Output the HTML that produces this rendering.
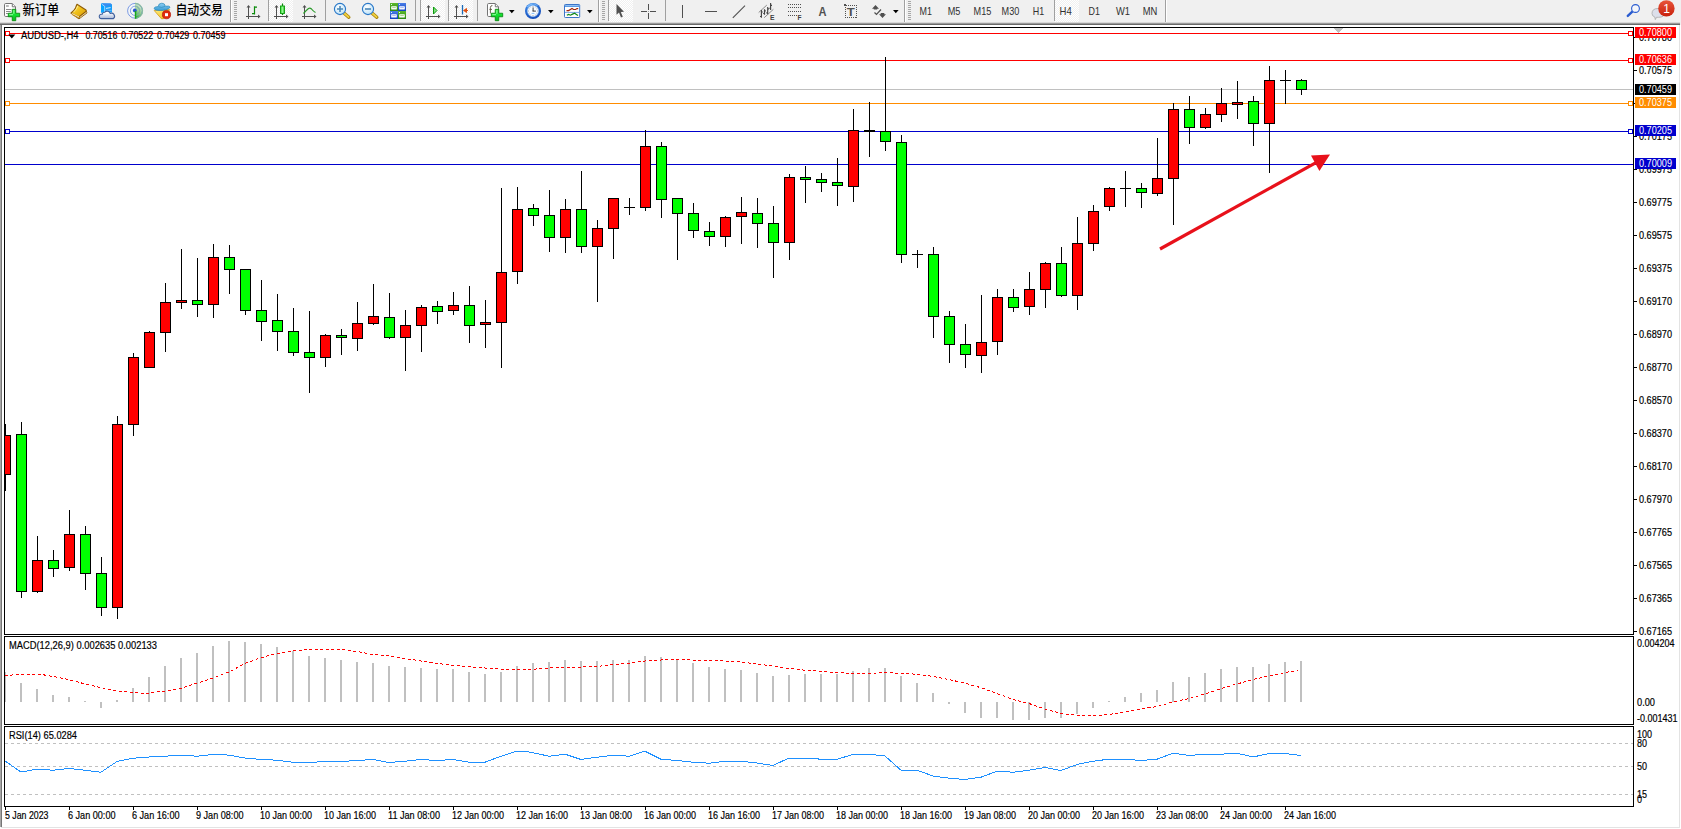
<!DOCTYPE html>
<html><head><meta charset="utf-8"><title>AUDUSD H4</title>
<style>
html,body{margin:0;padding:0;background:#fff}
body{width:1681px;height:829px;overflow:hidden;position:relative;font-family:'Liberation Sans','Noto Sans CJK SC',sans-serif}
#tb{position:absolute;left:0;top:0;width:1681px;height:25px;background:#f0f0f0}
#tbs{position:absolute;left:0;top:22px;width:1680px;z-index:1;height:3px;background:linear-gradient(#d8d8d8,#d8d8d8 33%,#9a9a9a 33%,#9a9a9a 67%,#696969 67%)}
#lb{position:absolute;left:0;top:24px;width:2px;height:803px;background:linear-gradient(90deg,#a6a6a6 50%,#767676 50%)}
#rb{position:absolute;left:1679px;top:25px;width:1px;height:803px;background:#e3e3e3}
#bb{position:absolute;left:1px;top:827px;width:1679px;height:1px;background:#e3e3e3}
svg{position:absolute;left:0;top:0}
text{font-family:'Liberation Sans','Noto Sans CJK SC',sans-serif}
</style></head><body>
<div id="tb"></div><div id="tbs"></div><div id="lb"></div><div id="rb"></div><div id="bb"></div>
<svg width="1681" height="829" viewBox="0 0 1681 829">
<g shape-rendering="crispEdges">
<rect x="4" y="27" width="1630" height="1" fill="#000"/>
<rect x="4" y="634" width="1630" height="1" fill="#000"/>
<rect x="4" y="27" width="1" height="608" fill="#000"/>
<rect x="1633" y="27" width="1" height="608" fill="#000"/>
<rect x="4" y="636" width="1630" height="1" fill="#000"/>
<rect x="4" y="724" width="1630" height="1" fill="#000"/>
<rect x="4" y="636" width="1" height="89" fill="#000"/>
<rect x="1633" y="636" width="1" height="89" fill="#000"/>
<rect x="4" y="726" width="1630" height="1" fill="#000"/>
<rect x="4" y="806" width="1630" height="1" fill="#000"/>
<rect x="4" y="726" width="1" height="81" fill="#000"/>
<rect x="1633" y="726" width="1" height="81" fill="#000"/>
<rect x="5" y="33" width="1628" height="1" fill="#ff0000"/>
<rect x="5" y="31" width="5" height="5" fill="#ff0000"/>
<rect x="6" y="32" width="3" height="3" fill="#fff"/>
<rect x="1628" y="31" width="5" height="5" fill="#ff0000"/>
<rect x="1629" y="32" width="3" height="3" fill="#fff"/>
<rect x="5" y="60" width="1628" height="1" fill="#ff0000"/>
<rect x="5" y="58" width="5" height="5" fill="#ff0000"/>
<rect x="6" y="59" width="3" height="3" fill="#fff"/>
<rect x="1628" y="58" width="5" height="5" fill="#ff0000"/>
<rect x="1629" y="59" width="3" height="3" fill="#fff"/>
<rect x="5" y="89" width="1628" height="1" fill="#c0c0c0"/>
<rect x="5" y="103" width="1628" height="1" fill="#ff8c00"/>
<rect x="5" y="101" width="5" height="5" fill="#ff8c00"/>
<rect x="6" y="102" width="3" height="3" fill="#fff"/>
<rect x="1628" y="101" width="5" height="5" fill="#ff8c00"/>
<rect x="1629" y="102" width="3" height="3" fill="#fff"/>
<rect x="5" y="131" width="1628" height="1" fill="#0000cd"/>
<rect x="5" y="129" width="5" height="5" fill="#0000cd"/>
<rect x="6" y="130" width="3" height="3" fill="#fff"/>
<rect x="1628" y="129" width="5" height="5" fill="#0000cd"/>
<rect x="1629" y="130" width="3" height="3" fill="#fff"/>
<rect x="5" y="164" width="1628" height="1" fill="#0000cd"/>
<rect x="5" y="424" width="1" height="67" fill="#000"/>
<rect x="5" y="435" width="6" height="40" fill="#000"/>
<rect x="5" y="436" width="5" height="38" fill="#ff0000"/>
<rect x="21" y="422" width="1" height="176" fill="#000"/>
<rect x="16" y="434" width="11" height="158" fill="#000"/>
<rect x="17" y="435" width="9" height="156" fill="#00ff00"/>
<rect x="37" y="536" width="1" height="57" fill="#000"/>
<rect x="32" y="560" width="11" height="32" fill="#000"/>
<rect x="33" y="561" width="9" height="30" fill="#ff0000"/>
<rect x="53" y="550" width="1" height="27" fill="#000"/>
<rect x="48" y="560" width="11" height="9" fill="#000"/>
<rect x="49" y="561" width="9" height="7" fill="#00ff00"/>
<rect x="69" y="510" width="1" height="61" fill="#000"/>
<rect x="64" y="534" width="11" height="34" fill="#000"/>
<rect x="65" y="535" width="9" height="32" fill="#ff0000"/>
<rect x="85" y="526" width="1" height="64" fill="#000"/>
<rect x="80" y="534" width="11" height="40" fill="#000"/>
<rect x="81" y="535" width="9" height="38" fill="#00ff00"/>
<rect x="101" y="557" width="1" height="59" fill="#000"/>
<rect x="96" y="573" width="11" height="35" fill="#000"/>
<rect x="97" y="574" width="9" height="33" fill="#00ff00"/>
<rect x="117" y="416" width="1" height="203" fill="#000"/>
<rect x="112" y="424" width="11" height="184" fill="#000"/>
<rect x="113" y="425" width="9" height="182" fill="#ff0000"/>
<rect x="133" y="353" width="1" height="83" fill="#000"/>
<rect x="128" y="357" width="11" height="68" fill="#000"/>
<rect x="129" y="358" width="9" height="66" fill="#ff0000"/>
<rect x="149" y="331" width="1" height="37" fill="#000"/>
<rect x="144" y="332" width="11" height="36" fill="#000"/>
<rect x="145" y="333" width="9" height="34" fill="#ff0000"/>
<rect x="165" y="283" width="1" height="69" fill="#000"/>
<rect x="160" y="302" width="11" height="31" fill="#000"/>
<rect x="161" y="303" width="9" height="29" fill="#ff0000"/>
<rect x="181" y="249" width="1" height="60" fill="#000"/>
<rect x="176" y="300" width="11" height="3" fill="#000"/>
<rect x="177" y="301" width="9" height="1" fill="#ff0000"/>
<rect x="197" y="258" width="1" height="59" fill="#000"/>
<rect x="192" y="300" width="11" height="5" fill="#000"/>
<rect x="193" y="301" width="9" height="3" fill="#00ff00"/>
<rect x="213" y="244" width="1" height="74" fill="#000"/>
<rect x="208" y="257" width="11" height="48" fill="#000"/>
<rect x="209" y="258" width="9" height="46" fill="#ff0000"/>
<rect x="229" y="245" width="1" height="49" fill="#000"/>
<rect x="224" y="257" width="11" height="13" fill="#000"/>
<rect x="225" y="258" width="9" height="11" fill="#00ff00"/>
<rect x="245" y="269" width="1" height="46" fill="#000"/>
<rect x="240" y="269" width="11" height="42" fill="#000"/>
<rect x="241" y="270" width="9" height="40" fill="#00ff00"/>
<rect x="261" y="280" width="1" height="61" fill="#000"/>
<rect x="256" y="310" width="11" height="12" fill="#000"/>
<rect x="257" y="311" width="9" height="10" fill="#00ff00"/>
<rect x="277" y="294" width="1" height="57" fill="#000"/>
<rect x="272" y="320" width="11" height="12" fill="#000"/>
<rect x="273" y="321" width="9" height="10" fill="#00ff00"/>
<rect x="293" y="308" width="1" height="48" fill="#000"/>
<rect x="288" y="331" width="11" height="22" fill="#000"/>
<rect x="289" y="332" width="9" height="20" fill="#00ff00"/>
<rect x="309" y="311" width="1" height="82" fill="#000"/>
<rect x="304" y="352" width="11" height="6" fill="#000"/>
<rect x="305" y="353" width="9" height="4" fill="#00ff00"/>
<rect x="325" y="334" width="1" height="33" fill="#000"/>
<rect x="320" y="335" width="11" height="23" fill="#000"/>
<rect x="321" y="336" width="9" height="21" fill="#ff0000"/>
<rect x="341" y="329" width="1" height="26" fill="#000"/>
<rect x="336" y="335" width="11" height="3" fill="#000"/>
<rect x="337" y="336" width="9" height="1" fill="#00ff00"/>
<rect x="357" y="302" width="1" height="49" fill="#000"/>
<rect x="352" y="323" width="11" height="16" fill="#000"/>
<rect x="353" y="324" width="9" height="14" fill="#ff0000"/>
<rect x="373" y="284" width="1" height="41" fill="#000"/>
<rect x="368" y="316" width="11" height="8" fill="#000"/>
<rect x="369" y="317" width="9" height="6" fill="#ff0000"/>
<rect x="389" y="293" width="1" height="46" fill="#000"/>
<rect x="384" y="317" width="11" height="21" fill="#000"/>
<rect x="385" y="318" width="9" height="19" fill="#00ff00"/>
<rect x="405" y="310" width="1" height="61" fill="#000"/>
<rect x="400" y="325" width="11" height="13" fill="#000"/>
<rect x="401" y="326" width="9" height="11" fill="#ff0000"/>
<rect x="421" y="305" width="1" height="47" fill="#000"/>
<rect x="416" y="307" width="11" height="19" fill="#000"/>
<rect x="417" y="308" width="9" height="17" fill="#ff0000"/>
<rect x="437" y="301" width="1" height="23" fill="#000"/>
<rect x="432" y="306" width="11" height="6" fill="#000"/>
<rect x="433" y="307" width="9" height="4" fill="#00ff00"/>
<rect x="453" y="292" width="1" height="23" fill="#000"/>
<rect x="448" y="305" width="11" height="6" fill="#000"/>
<rect x="449" y="306" width="9" height="4" fill="#ff0000"/>
<rect x="469" y="286" width="1" height="57" fill="#000"/>
<rect x="464" y="305" width="11" height="21" fill="#000"/>
<rect x="465" y="306" width="9" height="19" fill="#00ff00"/>
<rect x="485" y="300" width="1" height="48" fill="#000"/>
<rect x="480" y="322" width="11" height="3" fill="#000"/>
<rect x="481" y="323" width="9" height="1" fill="#ff0000"/>
<rect x="501" y="188" width="1" height="180" fill="#000"/>
<rect x="496" y="272" width="11" height="51" fill="#000"/>
<rect x="497" y="273" width="9" height="49" fill="#ff0000"/>
<rect x="517" y="187" width="1" height="97" fill="#000"/>
<rect x="512" y="209" width="11" height="63" fill="#000"/>
<rect x="513" y="210" width="9" height="61" fill="#ff0000"/>
<rect x="533" y="204" width="1" height="22" fill="#000"/>
<rect x="528" y="208" width="11" height="8" fill="#000"/>
<rect x="529" y="209" width="9" height="6" fill="#00ff00"/>
<rect x="549" y="190" width="1" height="62" fill="#000"/>
<rect x="544" y="215" width="11" height="23" fill="#000"/>
<rect x="545" y="216" width="9" height="21" fill="#00ff00"/>
<rect x="565" y="199" width="1" height="54" fill="#000"/>
<rect x="560" y="209" width="11" height="29" fill="#000"/>
<rect x="561" y="210" width="9" height="27" fill="#ff0000"/>
<rect x="581" y="171" width="1" height="82" fill="#000"/>
<rect x="576" y="209" width="11" height="38" fill="#000"/>
<rect x="577" y="210" width="9" height="36" fill="#00ff00"/>
<rect x="597" y="220" width="1" height="82" fill="#000"/>
<rect x="592" y="228" width="11" height="19" fill="#000"/>
<rect x="593" y="229" width="9" height="17" fill="#ff0000"/>
<rect x="613" y="198" width="1" height="61" fill="#000"/>
<rect x="608" y="198" width="11" height="31" fill="#000"/>
<rect x="609" y="199" width="9" height="29" fill="#ff0000"/>
<rect x="629" y="198" width="1" height="17" fill="#000"/>
<rect x="624" y="207" width="11" height="1" fill="#000"/>
<rect x="645" y="130" width="1" height="81" fill="#000"/>
<rect x="640" y="146" width="11" height="62" fill="#000"/>
<rect x="641" y="147" width="9" height="60" fill="#ff0000"/>
<rect x="661" y="142" width="1" height="76" fill="#000"/>
<rect x="656" y="146" width="11" height="54" fill="#000"/>
<rect x="657" y="147" width="9" height="52" fill="#00ff00"/>
<rect x="677" y="198" width="1" height="62" fill="#000"/>
<rect x="672" y="198" width="11" height="16" fill="#000"/>
<rect x="673" y="199" width="9" height="14" fill="#00ff00"/>
<rect x="693" y="203" width="1" height="35" fill="#000"/>
<rect x="688" y="213" width="11" height="18" fill="#000"/>
<rect x="689" y="214" width="9" height="16" fill="#00ff00"/>
<rect x="709" y="222" width="1" height="24" fill="#000"/>
<rect x="704" y="231" width="11" height="6" fill="#000"/>
<rect x="705" y="232" width="9" height="4" fill="#00ff00"/>
<rect x="725" y="216" width="1" height="31" fill="#000"/>
<rect x="720" y="217" width="11" height="20" fill="#000"/>
<rect x="721" y="218" width="9" height="18" fill="#ff0000"/>
<rect x="741" y="197" width="1" height="47" fill="#000"/>
<rect x="736" y="212" width="11" height="5" fill="#000"/>
<rect x="737" y="213" width="9" height="3" fill="#ff0000"/>
<rect x="757" y="198" width="1" height="50" fill="#000"/>
<rect x="752" y="213" width="11" height="11" fill="#000"/>
<rect x="753" y="214" width="9" height="9" fill="#00ff00"/>
<rect x="773" y="206" width="1" height="72" fill="#000"/>
<rect x="768" y="223" width="11" height="20" fill="#000"/>
<rect x="769" y="224" width="9" height="18" fill="#00ff00"/>
<rect x="789" y="174" width="1" height="86" fill="#000"/>
<rect x="784" y="177" width="11" height="66" fill="#000"/>
<rect x="785" y="178" width="9" height="64" fill="#ff0000"/>
<rect x="805" y="166" width="1" height="37" fill="#000"/>
<rect x="800" y="177" width="11" height="3" fill="#000"/>
<rect x="801" y="178" width="9" height="1" fill="#00ff00"/>
<rect x="821" y="173" width="1" height="19" fill="#000"/>
<rect x="816" y="179" width="11" height="4" fill="#000"/>
<rect x="817" y="180" width="9" height="2" fill="#00ff00"/>
<rect x="837" y="158" width="1" height="48" fill="#000"/>
<rect x="832" y="182" width="11" height="4" fill="#000"/>
<rect x="833" y="183" width="9" height="2" fill="#00ff00"/>
<rect x="853" y="109" width="1" height="93" fill="#000"/>
<rect x="848" y="130" width="11" height="57" fill="#000"/>
<rect x="849" y="131" width="9" height="55" fill="#ff0000"/>
<rect x="869" y="102" width="1" height="55" fill="#000"/>
<rect x="864" y="130" width="11" height="2" fill="#000"/>
<rect x="885" y="57" width="1" height="94" fill="#000"/>
<rect x="880" y="131" width="11" height="11" fill="#000"/>
<rect x="881" y="132" width="9" height="9" fill="#00ff00"/>
<rect x="901" y="135" width="1" height="128" fill="#000"/>
<rect x="896" y="142" width="11" height="113" fill="#000"/>
<rect x="897" y="143" width="9" height="111" fill="#00ff00"/>
<rect x="917" y="250" width="1" height="18" fill="#000"/>
<rect x="912" y="254" width="11" height="1" fill="#000"/>
<rect x="933" y="247" width="1" height="91" fill="#000"/>
<rect x="928" y="254" width="11" height="63" fill="#000"/>
<rect x="929" y="255" width="9" height="61" fill="#00ff00"/>
<rect x="949" y="311" width="1" height="52" fill="#000"/>
<rect x="944" y="316" width="11" height="29" fill="#000"/>
<rect x="945" y="317" width="9" height="27" fill="#00ff00"/>
<rect x="965" y="324" width="1" height="44" fill="#000"/>
<rect x="960" y="344" width="11" height="11" fill="#000"/>
<rect x="961" y="345" width="9" height="9" fill="#00ff00"/>
<rect x="981" y="295" width="1" height="78" fill="#000"/>
<rect x="976" y="342" width="11" height="14" fill="#000"/>
<rect x="977" y="343" width="9" height="12" fill="#ff0000"/>
<rect x="997" y="289" width="1" height="66" fill="#000"/>
<rect x="992" y="297" width="11" height="45" fill="#000"/>
<rect x="993" y="298" width="9" height="43" fill="#ff0000"/>
<rect x="1013" y="289" width="1" height="23" fill="#000"/>
<rect x="1008" y="297" width="11" height="11" fill="#000"/>
<rect x="1009" y="298" width="9" height="9" fill="#00ff00"/>
<rect x="1029" y="272" width="1" height="43" fill="#000"/>
<rect x="1024" y="289" width="11" height="18" fill="#000"/>
<rect x="1025" y="290" width="9" height="16" fill="#ff0000"/>
<rect x="1045" y="262" width="1" height="46" fill="#000"/>
<rect x="1040" y="263" width="11" height="27" fill="#000"/>
<rect x="1041" y="264" width="9" height="25" fill="#ff0000"/>
<rect x="1061" y="247" width="1" height="50" fill="#000"/>
<rect x="1056" y="263" width="11" height="33" fill="#000"/>
<rect x="1057" y="264" width="9" height="31" fill="#00ff00"/>
<rect x="1077" y="217" width="1" height="93" fill="#000"/>
<rect x="1072" y="243" width="11" height="53" fill="#000"/>
<rect x="1073" y="244" width="9" height="51" fill="#ff0000"/>
<rect x="1093" y="205" width="1" height="46" fill="#000"/>
<rect x="1088" y="211" width="11" height="33" fill="#000"/>
<rect x="1089" y="212" width="9" height="31" fill="#ff0000"/>
<rect x="1109" y="187" width="1" height="24" fill="#000"/>
<rect x="1104" y="188" width="11" height="19" fill="#000"/>
<rect x="1105" y="189" width="9" height="17" fill="#ff0000"/>
<rect x="1125" y="171" width="1" height="36" fill="#000"/>
<rect x="1120" y="188" width="11" height="1" fill="#000"/>
<rect x="1141" y="183" width="1" height="25" fill="#000"/>
<rect x="1136" y="188" width="11" height="5" fill="#000"/>
<rect x="1137" y="189" width="9" height="3" fill="#00ff00"/>
<rect x="1157" y="138" width="1" height="58" fill="#000"/>
<rect x="1152" y="178" width="11" height="16" fill="#000"/>
<rect x="1153" y="179" width="9" height="14" fill="#ff0000"/>
<rect x="1173" y="103" width="1" height="122" fill="#000"/>
<rect x="1168" y="109" width="11" height="70" fill="#000"/>
<rect x="1169" y="110" width="9" height="68" fill="#ff0000"/>
<rect x="1189" y="96" width="1" height="48" fill="#000"/>
<rect x="1184" y="109" width="11" height="19" fill="#000"/>
<rect x="1185" y="110" width="9" height="17" fill="#00ff00"/>
<rect x="1205" y="108" width="1" height="21" fill="#000"/>
<rect x="1200" y="114" width="11" height="14" fill="#000"/>
<rect x="1201" y="115" width="9" height="12" fill="#ff0000"/>
<rect x="1221" y="88" width="1" height="34" fill="#000"/>
<rect x="1216" y="103" width="11" height="12" fill="#000"/>
<rect x="1217" y="104" width="9" height="10" fill="#ff0000"/>
<rect x="1237" y="81" width="1" height="38" fill="#000"/>
<rect x="1232" y="102" width="11" height="3" fill="#000"/>
<rect x="1233" y="103" width="9" height="1" fill="#ff0000"/>
<rect x="1253" y="96" width="1" height="50" fill="#000"/>
<rect x="1248" y="101" width="11" height="23" fill="#000"/>
<rect x="1249" y="102" width="9" height="21" fill="#00ff00"/>
<rect x="1269" y="66" width="1" height="107" fill="#000"/>
<rect x="1264" y="80" width="11" height="44" fill="#000"/>
<rect x="1265" y="81" width="9" height="42" fill="#ff0000"/>
<rect x="1285" y="70" width="1" height="34" fill="#000"/>
<rect x="1280" y="80" width="11" height="1" fill="#000"/>
<rect x="1301" y="79" width="1" height="16" fill="#000"/>
<rect x="1296" y="80" width="11" height="10" fill="#000"/>
<rect x="1297" y="81" width="9" height="8" fill="#00ff00"/>
<rect x="1634" y="37" width="3" height="1" fill="#000"/>
<rect x="1634" y="70" width="3" height="1" fill="#000"/>
<rect x="1634" y="103" width="3" height="1" fill="#000"/>
<rect x="1634" y="136" width="3" height="1" fill="#000"/>
<rect x="1634" y="169" width="3" height="1" fill="#000"/>
<rect x="1634" y="202" width="3" height="1" fill="#000"/>
<rect x="1634" y="235" width="3" height="1" fill="#000"/>
<rect x="1634" y="268" width="3" height="1" fill="#000"/>
<rect x="1634" y="301" width="3" height="1" fill="#000"/>
<rect x="1634" y="334" width="3" height="1" fill="#000"/>
<rect x="1634" y="367" width="3" height="1" fill="#000"/>
<rect x="1634" y="400" width="3" height="1" fill="#000"/>
<rect x="1634" y="433" width="3" height="1" fill="#000"/>
<rect x="1634" y="466" width="3" height="1" fill="#000"/>
<rect x="1634" y="499" width="3" height="1" fill="#000"/>
<rect x="1634" y="532" width="3" height="1" fill="#000"/>
<rect x="1634" y="565" width="3" height="1" fill="#000"/>
<rect x="1634" y="598" width="3" height="1" fill="#000"/>
<rect x="1634" y="631" width="3" height="1" fill="#000"/>
<rect x="5" y="672" width="1" height="30" fill="#c0c0c0"/>
<rect x="20" y="683" width="2" height="19" fill="#c0c0c0"/>
<rect x="36" y="689" width="2" height="13" fill="#c0c0c0"/>
<rect x="52" y="695" width="2" height="7" fill="#c0c0c0"/>
<rect x="68" y="697" width="2" height="5" fill="#c0c0c0"/>
<rect x="84" y="701" width="2" height="1" fill="#c0c0c0"/>
<rect x="100" y="702" width="2" height="6" fill="#c0c0c0"/>
<rect x="116" y="700" width="2" height="2" fill="#c0c0c0"/>
<rect x="132" y="688" width="2" height="14" fill="#c0c0c0"/>
<rect x="148" y="677" width="2" height="25" fill="#c0c0c0"/>
<rect x="164" y="666" width="2" height="36" fill="#c0c0c0"/>
<rect x="180" y="658" width="2" height="44" fill="#c0c0c0"/>
<rect x="196" y="653" width="2" height="49" fill="#c0c0c0"/>
<rect x="212" y="646" width="2" height="56" fill="#c0c0c0"/>
<rect x="228" y="641" width="2" height="61" fill="#c0c0c0"/>
<rect x="244" y="642" width="2" height="60" fill="#c0c0c0"/>
<rect x="260" y="644" width="2" height="58" fill="#c0c0c0"/>
<rect x="276" y="647" width="2" height="55" fill="#c0c0c0"/>
<rect x="292" y="651" width="2" height="51" fill="#c0c0c0"/>
<rect x="308" y="656" width="2" height="46" fill="#c0c0c0"/>
<rect x="324" y="658" width="2" height="44" fill="#c0c0c0"/>
<rect x="340" y="660" width="2" height="42" fill="#c0c0c0"/>
<rect x="356" y="662" width="2" height="40" fill="#c0c0c0"/>
<rect x="372" y="663" width="2" height="39" fill="#c0c0c0"/>
<rect x="388" y="666" width="2" height="36" fill="#c0c0c0"/>
<rect x="404" y="667" width="2" height="35" fill="#c0c0c0"/>
<rect x="420" y="668" width="2" height="34" fill="#c0c0c0"/>
<rect x="436" y="669" width="2" height="33" fill="#c0c0c0"/>
<rect x="452" y="669" width="2" height="33" fill="#c0c0c0"/>
<rect x="468" y="672" width="2" height="30" fill="#c0c0c0"/>
<rect x="484" y="674" width="2" height="28" fill="#c0c0c0"/>
<rect x="500" y="672" width="2" height="30" fill="#c0c0c0"/>
<rect x="516" y="666" width="2" height="36" fill="#c0c0c0"/>
<rect x="532" y="663" width="2" height="39" fill="#c0c0c0"/>
<rect x="548" y="662" width="2" height="40" fill="#c0c0c0"/>
<rect x="564" y="660" width="2" height="42" fill="#c0c0c0"/>
<rect x="580" y="661" width="2" height="41" fill="#c0c0c0"/>
<rect x="596" y="661" width="2" height="41" fill="#c0c0c0"/>
<rect x="612" y="660" width="2" height="42" fill="#c0c0c0"/>
<rect x="628" y="660" width="2" height="42" fill="#c0c0c0"/>
<rect x="644" y="656" width="2" height="46" fill="#c0c0c0"/>
<rect x="660" y="657" width="2" height="45" fill="#c0c0c0"/>
<rect x="676" y="659" width="2" height="43" fill="#c0c0c0"/>
<rect x="692" y="663" width="2" height="39" fill="#c0c0c0"/>
<rect x="708" y="667" width="2" height="35" fill="#c0c0c0"/>
<rect x="724" y="669" width="2" height="33" fill="#c0c0c0"/>
<rect x="740" y="670" width="2" height="32" fill="#c0c0c0"/>
<rect x="756" y="673" width="2" height="29" fill="#c0c0c0"/>
<rect x="772" y="676" width="2" height="26" fill="#c0c0c0"/>
<rect x="788" y="675" width="2" height="27" fill="#c0c0c0"/>
<rect x="804" y="674" width="2" height="28" fill="#c0c0c0"/>
<rect x="820" y="674" width="2" height="28" fill="#c0c0c0"/>
<rect x="836" y="674" width="2" height="28" fill="#c0c0c0"/>
<rect x="852" y="671" width="2" height="31" fill="#c0c0c0"/>
<rect x="868" y="668" width="2" height="34" fill="#c0c0c0"/>
<rect x="884" y="668" width="2" height="34" fill="#c0c0c0"/>
<rect x="900" y="676" width="2" height="26" fill="#c0c0c0"/>
<rect x="916" y="683" width="2" height="19" fill="#c0c0c0"/>
<rect x="932" y="693" width="2" height="9" fill="#c0c0c0"/>
<rect x="948" y="702" width="2" height="2" fill="#c0c0c0"/>
<rect x="964" y="702" width="2" height="11" fill="#c0c0c0"/>
<rect x="980" y="702" width="2" height="16" fill="#c0c0c0"/>
<rect x="996" y="702" width="2" height="16" fill="#c0c0c0"/>
<rect x="1012" y="702" width="2" height="18" fill="#c0c0c0"/>
<rect x="1028" y="702" width="2" height="18" fill="#c0c0c0"/>
<rect x="1044" y="702" width="2" height="16" fill="#c0c0c0"/>
<rect x="1060" y="702" width="2" height="16" fill="#c0c0c0"/>
<rect x="1076" y="702" width="2" height="12" fill="#c0c0c0"/>
<rect x="1092" y="702" width="2" height="6" fill="#c0c0c0"/>
<rect x="1108" y="701" width="2" height="1" fill="#c0c0c0"/>
<rect x="1124" y="697" width="2" height="5" fill="#c0c0c0"/>
<rect x="1140" y="693" width="2" height="9" fill="#c0c0c0"/>
<rect x="1156" y="690" width="2" height="12" fill="#c0c0c0"/>
<rect x="1172" y="682" width="2" height="20" fill="#c0c0c0"/>
<rect x="1188" y="677" width="2" height="25" fill="#c0c0c0"/>
<rect x="1204" y="673" width="2" height="29" fill="#c0c0c0"/>
<rect x="1220" y="669" width="2" height="33" fill="#c0c0c0"/>
<rect x="1236" y="667" width="2" height="35" fill="#c0c0c0"/>
<rect x="1252" y="667" width="2" height="35" fill="#c0c0c0"/>
<rect x="1268" y="664" width="2" height="38" fill="#c0c0c0"/>
<rect x="1284" y="662" width="2" height="40" fill="#c0c0c0"/>
<rect x="1300" y="661" width="2" height="41" fill="#c0c0c0"/>
<rect x="1334" y="28" width="9" height="1" fill="#c0c0c0"/>
<rect x="1335" y="29" width="7" height="1" fill="#c0c0c0"/>
<rect x="1336" y="30" width="5" height="1" fill="#c0c0c0"/>
<rect x="1337" y="31" width="3" height="1" fill="#c0c0c0"/>
<rect x="1338" y="32" width="1" height="1" fill="#c0c0c0"/>
<path d="M5 743.5H1633" stroke="#c0c0c0" stroke-width="1" stroke-dasharray="3 3" fill="none"/>
<path d="M5 766.5H1633" stroke="#c0c0c0" stroke-width="1" stroke-dasharray="3 3" fill="none"/>
<path d="M5 794.5H1633" stroke="#c0c0c0" stroke-width="1" stroke-dasharray="3 3" fill="none"/>
<rect x="5" y="807" width="1" height="3" fill="#000"/>
<rect x="69" y="807" width="1" height="3" fill="#000"/>
<rect x="133" y="807" width="1" height="3" fill="#000"/>
<rect x="197" y="807" width="1" height="3" fill="#000"/>
<rect x="261" y="807" width="1" height="3" fill="#000"/>
<rect x="325" y="807" width="1" height="3" fill="#000"/>
<rect x="389" y="807" width="1" height="3" fill="#000"/>
<rect x="453" y="807" width="1" height="3" fill="#000"/>
<rect x="517" y="807" width="1" height="3" fill="#000"/>
<rect x="581" y="807" width="1" height="3" fill="#000"/>
<rect x="645" y="807" width="1" height="3" fill="#000"/>
<rect x="709" y="807" width="1" height="3" fill="#000"/>
<rect x="773" y="807" width="1" height="3" fill="#000"/>
<rect x="837" y="807" width="1" height="3" fill="#000"/>
<rect x="901" y="807" width="1" height="3" fill="#000"/>
<rect x="965" y="807" width="1" height="3" fill="#000"/>
<rect x="1029" y="807" width="1" height="3" fill="#000"/>
<rect x="1093" y="807" width="1" height="3" fill="#000"/>
<rect x="1157" y="807" width="1" height="3" fill="#000"/>
<rect x="1221" y="807" width="1" height="3" fill="#000"/>
<rect x="1285" y="807" width="1" height="3" fill="#000"/>
</g>
<polyline points="5,675.2 40,674.2 64,678.5 90,685.2 117,691 145,693.5 165,691 181,688.2 197,683.2 213,678.2 229,672 245,663.5 261,657.7 277,653.5 293,650.7 309,649.5 341,649.5 357,651.5 373,654.5 389,656 405,658.5 421,661 453,665.5 485,668 501,669.2 533,669.2 549,668 581,667 597,666.5 613,664.5 629,663.2 645,661 661,660 677,659.2 693,660 725,661 741,662 757,664 773,666 789,668.5 805,670.2 837,672.5 853,673.5 869,673.5 885,672.5 901,673.5 917,674.2 933,676.5 949,679.5 965,683.2 981,687.7 997,693.5 1013,699.5 1029,703.5 1045,709 1061,713.5 1077,715 1093,716 1109,714.5 1125,712 1141,709 1157,706.5 1173,702 1189,698.5 1205,694 1221,688.5 1237,684 1253,679.5 1269,676 1285,672.5 1298,670.5" fill="none" stroke="#ff0000" stroke-width="1" stroke-dasharray="3 2.5" shape-rendering="crispEdges"/>
<polyline points="5,761 21,772 37,769.2 53,770.2 69,768.5 85,770.2 101,772.2 117,761.5 133,758.2 149,757 165,756.2 181,755.2 197,756.2 213,754.5 221,754.2 229,755.2 245,758 261,759.5 277,760.2 293,762.2 309,762.5 325,761.5 341,761.5 357,760.5 373,759.5 389,762.5 405,761.2 421,759.5 437,760.5 453,759.5 469,762.2 485,762.2 501,756.2 517,751.2 525,751.2 533,752.7 549,756.2 565,754.2 581,759.5 597,757.2 613,755.2 629,756.2 645,751.2 661,759.2 677,760.5 693,762.2 709,763.2 725,761.2 741,761.2 757,763 773,765.5 789,758 805,758 821,759.2 837,759.2 853,754.5 869,754.2 885,756 901,770.2 917,770.2 933,776 949,778.2 965,779.5 981,777.2 997,771.2 1013,772.2 1029,770.2 1045,767.5 1061,770.5 1077,764.5 1093,761.2 1109,759.2 1125,759.2 1141,760.5 1157,759.2 1173,753.2 1189,755.5 1205,754.2 1221,754.2 1237,753.2 1253,757 1269,753.5 1285,753.5 1301,755.5" fill="none" stroke="#1e90ff" stroke-width="1" shape-rendering="crispEdges"/>
<path d="M1160 249 L1316 162.6" stroke="#e8111b" stroke-width="3.2" fill="none"/>
<path d="M1311 155.6 L1330 154.4 L1319.4 171 Z" fill="#e8111b"/>
<text x="1639" y="41" font-size="10" fill="#000" textLength="33" lengthAdjust="spacingAndGlyphs" stroke="#000" stroke-width="0.18">0.70780</text>
<text x="1639" y="74" font-size="10" fill="#000" textLength="33" lengthAdjust="spacingAndGlyphs" stroke="#000" stroke-width="0.18">0.70575</text>
<text x="1639" y="107" font-size="10" fill="#000" textLength="33" lengthAdjust="spacingAndGlyphs" stroke="#000" stroke-width="0.18">0.70375</text>
<text x="1639" y="140" font-size="10" fill="#000" textLength="33" lengthAdjust="spacingAndGlyphs" stroke="#000" stroke-width="0.18">0.70175</text>
<text x="1639" y="173" font-size="10" fill="#000" textLength="33" lengthAdjust="spacingAndGlyphs" stroke="#000" stroke-width="0.18">0.69975</text>
<text x="1639" y="206" font-size="10" fill="#000" textLength="33" lengthAdjust="spacingAndGlyphs" stroke="#000" stroke-width="0.18">0.69775</text>
<text x="1639" y="239" font-size="10" fill="#000" textLength="33" lengthAdjust="spacingAndGlyphs" stroke="#000" stroke-width="0.18">0.69575</text>
<text x="1639" y="272" font-size="10" fill="#000" textLength="33" lengthAdjust="spacingAndGlyphs" stroke="#000" stroke-width="0.18">0.69375</text>
<text x="1639" y="305" font-size="10" fill="#000" textLength="33" lengthAdjust="spacingAndGlyphs" stroke="#000" stroke-width="0.18">0.69170</text>
<text x="1639" y="338" font-size="10" fill="#000" textLength="33" lengthAdjust="spacingAndGlyphs" stroke="#000" stroke-width="0.18">0.68970</text>
<text x="1639" y="371" font-size="10" fill="#000" textLength="33" lengthAdjust="spacingAndGlyphs" stroke="#000" stroke-width="0.18">0.68770</text>
<text x="1639" y="404" font-size="10" fill="#000" textLength="33" lengthAdjust="spacingAndGlyphs" stroke="#000" stroke-width="0.18">0.68570</text>
<text x="1639" y="437" font-size="10" fill="#000" textLength="33" lengthAdjust="spacingAndGlyphs" stroke="#000" stroke-width="0.18">0.68370</text>
<text x="1639" y="470" font-size="10" fill="#000" textLength="33" lengthAdjust="spacingAndGlyphs" stroke="#000" stroke-width="0.18">0.68170</text>
<text x="1639" y="503" font-size="10" fill="#000" textLength="33" lengthAdjust="spacingAndGlyphs" stroke="#000" stroke-width="0.18">0.67970</text>
<text x="1639" y="536" font-size="10" fill="#000" textLength="33" lengthAdjust="spacingAndGlyphs" stroke="#000" stroke-width="0.18">0.67765</text>
<text x="1639" y="569" font-size="10" fill="#000" textLength="33" lengthAdjust="spacingAndGlyphs" stroke="#000" stroke-width="0.18">0.67565</text>
<text x="1639" y="602" font-size="10" fill="#000" textLength="33" lengthAdjust="spacingAndGlyphs" stroke="#000" stroke-width="0.18">0.67365</text>
<text x="1639" y="635" font-size="10" fill="#000" textLength="33" lengthAdjust="spacingAndGlyphs" stroke="#000" stroke-width="0.18">0.67165</text>
<rect x="1635" y="27" width="41" height="11" fill="#ff0000" shape-rendering="crispEdges"/>
<text x="1639" y="36" font-size="10" fill="#fff" textLength="33" lengthAdjust="spacingAndGlyphs">0.70800</text>
<rect x="1635" y="54" width="41" height="11" fill="#ff0000" shape-rendering="crispEdges"/>
<text x="1639" y="63" font-size="10" fill="#fff" textLength="33" lengthAdjust="spacingAndGlyphs">0.70636</text>
<rect x="1635" y="84" width="41" height="11" fill="#000" shape-rendering="crispEdges"/>
<text x="1639" y="93" font-size="10" fill="#fff" textLength="33" lengthAdjust="spacingAndGlyphs">0.70459</text>
<rect x="1635" y="97" width="41" height="11" fill="#ff8c00" shape-rendering="crispEdges"/>
<text x="1639" y="106" font-size="10" fill="#fff" textLength="33" lengthAdjust="spacingAndGlyphs">0.70375</text>
<rect x="1635" y="125" width="41" height="11" fill="#0000cd" shape-rendering="crispEdges"/>
<text x="1639" y="134" font-size="10" fill="#fff" textLength="33" lengthAdjust="spacingAndGlyphs">0.70205</text>
<rect x="1635" y="158" width="41" height="11" fill="#0000cd" shape-rendering="crispEdges"/>
<text x="1639" y="167" font-size="10" fill="#fff" textLength="33" lengthAdjust="spacingAndGlyphs">0.70009</text>
<text x="1637" y="647" font-size="10" fill="#000" textLength="37.5" lengthAdjust="spacingAndGlyphs" stroke="#000" stroke-width="0.18">0.004204</text>
<text x="1637" y="706" font-size="10" fill="#000" textLength="18" lengthAdjust="spacingAndGlyphs" stroke="#000" stroke-width="0.18">0.00</text>
<text x="1637" y="721.5" font-size="10" fill="#000" textLength="40.5" lengthAdjust="spacingAndGlyphs" stroke="#000" stroke-width="0.18">-0.001431</text>
<text x="1637" y="737.5" font-size="10" fill="#000" textLength="15" lengthAdjust="spacingAndGlyphs" stroke="#000" stroke-width="0.18">100</text>
<text x="1637" y="747" font-size="10" fill="#000" textLength="10" lengthAdjust="spacingAndGlyphs" stroke="#000" stroke-width="0.18">80</text>
<text x="1637" y="770" font-size="10" fill="#000" textLength="10" lengthAdjust="spacingAndGlyphs" stroke="#000" stroke-width="0.18">50</text>
<text x="1637" y="798" font-size="10" fill="#000" textLength="10" lengthAdjust="spacingAndGlyphs" stroke="#000" stroke-width="0.18">15</text>
<text x="1637" y="803" font-size="10" fill="#000" textLength="5" lengthAdjust="spacingAndGlyphs" stroke="#000" stroke-width="0.18">0</text>
<path d="M8.3 34.4 L15.3 34.4 L11.8 38.4 Z" fill="#000"/>
<text x="21" y="39" font-size="10" fill="#000" textLength="57.5" lengthAdjust="spacingAndGlyphs" stroke="#000" stroke-width="0.18">AUDUSD-,H4</text>
<text x="85.4" y="39" font-size="10" fill="#000" textLength="32" lengthAdjust="spacingAndGlyphs" stroke="#000" stroke-width="0.18">0.70516</text>
<text x="121.1" y="39" font-size="10" fill="#000" textLength="32" lengthAdjust="spacingAndGlyphs" stroke="#000" stroke-width="0.18">0.70522</text>
<text x="157.1" y="39" font-size="10" fill="#000" textLength="32.2" lengthAdjust="spacingAndGlyphs" stroke="#000" stroke-width="0.18">0.70429</text>
<text x="193.1" y="39" font-size="10" fill="#000" textLength="32.3" lengthAdjust="spacingAndGlyphs" stroke="#000" stroke-width="0.18">0.70459</text>
<text x="9" y="649" font-size="10" fill="#000" textLength="148" lengthAdjust="spacingAndGlyphs" stroke="#000" stroke-width="0.18">MACD(12,26,9) 0.002635 0.002133</text>
<text x="9" y="739" font-size="10" fill="#000" textLength="68" lengthAdjust="spacingAndGlyphs" stroke="#000" stroke-width="0.18">RSI(14) 65.0284</text>
<text x="5" y="819" font-size="10" fill="#000" textLength="43.5" lengthAdjust="spacingAndGlyphs" stroke="#000" stroke-width="0.18">5 Jan 2023</text>
<text x="68" y="819" font-size="10" fill="#000" textLength="47.5" lengthAdjust="spacingAndGlyphs" stroke="#000" stroke-width="0.18">6 Jan 00:00</text>
<text x="132" y="819" font-size="10" fill="#000" textLength="47.5" lengthAdjust="spacingAndGlyphs" stroke="#000" stroke-width="0.18">6 Jan 16:00</text>
<text x="196" y="819" font-size="10" fill="#000" textLength="47.5" lengthAdjust="spacingAndGlyphs" stroke="#000" stroke-width="0.18">9 Jan 08:00</text>
<text x="260" y="819" font-size="10" fill="#000" textLength="52" lengthAdjust="spacingAndGlyphs" stroke="#000" stroke-width="0.18">10 Jan 00:00</text>
<text x="324" y="819" font-size="10" fill="#000" textLength="52" lengthAdjust="spacingAndGlyphs" stroke="#000" stroke-width="0.18">10 Jan 16:00</text>
<text x="388" y="819" font-size="10" fill="#000" textLength="52" lengthAdjust="spacingAndGlyphs" stroke="#000" stroke-width="0.18">11 Jan 08:00</text>
<text x="452" y="819" font-size="10" fill="#000" textLength="52" lengthAdjust="spacingAndGlyphs" stroke="#000" stroke-width="0.18">12 Jan 00:00</text>
<text x="516" y="819" font-size="10" fill="#000" textLength="52" lengthAdjust="spacingAndGlyphs" stroke="#000" stroke-width="0.18">12 Jan 16:00</text>
<text x="580" y="819" font-size="10" fill="#000" textLength="52" lengthAdjust="spacingAndGlyphs" stroke="#000" stroke-width="0.18">13 Jan 08:00</text>
<text x="644" y="819" font-size="10" fill="#000" textLength="52" lengthAdjust="spacingAndGlyphs" stroke="#000" stroke-width="0.18">16 Jan 00:00</text>
<text x="708" y="819" font-size="10" fill="#000" textLength="52" lengthAdjust="spacingAndGlyphs" stroke="#000" stroke-width="0.18">16 Jan 16:00</text>
<text x="772" y="819" font-size="10" fill="#000" textLength="52" lengthAdjust="spacingAndGlyphs" stroke="#000" stroke-width="0.18">17 Jan 08:00</text>
<text x="836" y="819" font-size="10" fill="#000" textLength="52" lengthAdjust="spacingAndGlyphs" stroke="#000" stroke-width="0.18">18 Jan 00:00</text>
<text x="900" y="819" font-size="10" fill="#000" textLength="52" lengthAdjust="spacingAndGlyphs" stroke="#000" stroke-width="0.18">18 Jan 16:00</text>
<text x="964" y="819" font-size="10" fill="#000" textLength="52" lengthAdjust="spacingAndGlyphs" stroke="#000" stroke-width="0.18">19 Jan 08:00</text>
<text x="1028" y="819" font-size="10" fill="#000" textLength="52" lengthAdjust="spacingAndGlyphs" stroke="#000" stroke-width="0.18">20 Jan 00:00</text>
<text x="1092" y="819" font-size="10" fill="#000" textLength="52" lengthAdjust="spacingAndGlyphs" stroke="#000" stroke-width="0.18">20 Jan 16:00</text>
<text x="1156" y="819" font-size="10" fill="#000" textLength="52" lengthAdjust="spacingAndGlyphs" stroke="#000" stroke-width="0.18">23 Jan 08:00</text>
<text x="1220" y="819" font-size="10" fill="#000" textLength="52" lengthAdjust="spacingAndGlyphs" stroke="#000" stroke-width="0.18">24 Jan 00:00</text>
<text x="1284" y="819" font-size="10" fill="#000" textLength="52" lengthAdjust="spacingAndGlyphs" stroke="#000" stroke-width="0.18">24 Jan 16:00</text>
<defs>
<pattern id="chk" width="2" height="2" patternUnits="userSpaceOnUse"><rect width="2" height="2" fill="#f0f0f0"/><rect width="1" height="1" fill="#fff"/><rect x="1" y="1" width="1" height="1" fill="#fff"/></pattern>
<linearGradient id="gplus" x1="0" y1="0" x2="0" y2="1"><stop offset="0" stop-color="#3aea4a"/><stop offset="0.5" stop-color="#10e030"/><stop offset="1" stop-color="#0cb81c"/></linearGradient>
<linearGradient id="gold" x1="0" y1="0" x2="1" y2="1"><stop offset="0" stop-color="#ffe870"/><stop offset="0.5" stop-color="#f0c018"/><stop offset="1" stop-color="#d89808"/></linearGradient>
<linearGradient id="cube" x1="0" y1="0" x2="1" y2="0"><stop offset="0" stop-color="#38b0ff"/><stop offset="1" stop-color="#0a6fe0"/></linearGradient>
<linearGradient id="cloud" x1="0" y1="0" x2="0" y2="1"><stop offset="0.2" stop-color="#ffffff"/><stop offset="1" stop-color="#a8b8d8"/></linearGradient>
<linearGradient id="sweep" x1="0.2" y1="1" x2="0.6" y2="0"><stop offset="0" stop-color="#28b028"/><stop offset="0.5" stop-color="#9ad09a"/><stop offset="1" stop-color="#e0ece0"/></linearGradient>
<radialGradient id="radar" cx="0.5" cy="0.5" r="0.5"><stop offset="0" stop-color="#e8f4ff"/><stop offset="1" stop-color="#a8c8e8"/></radialGradient>
<linearGradient id="hat" x1="0" y1="0" x2="0" y2="1"><stop offset="0" stop-color="#8ccef4"/><stop offset="1" stop-color="#3a9cd4"/></linearGradient>
<linearGradient id="funnel" x1="0" y1="0" x2="1" y2="1"><stop offset="0" stop-color="#fff080"/><stop offset="1" stop-color="#f0b414"/></linearGradient>
<radialGradient id="lens" cx="0.4" cy="0.35" r="0.7"><stop offset="0" stop-color="#ffffff"/><stop offset="1" stop-color="#b8e0f8"/></radialGradient>
<linearGradient id="tg" x1="0" y1="0" x2="0" y2="1"><stop offset="0" stop-color="#5cb82c"/><stop offset="1" stop-color="#2a8a10"/></linearGradient>
<linearGradient id="tbl" x1="0" y1="0" x2="0" y2="1"><stop offset="0" stop-color="#4a7ee8"/><stop offset="1" stop-color="#1040c0"/></linearGradient>
<radialGradient id="clk" cx="0.4" cy="0.3" r="0.8"><stop offset="0" stop-color="#4a9cf8"/><stop offset="1" stop-color="#0a40b0"/></radialGradient>
<linearGradient id="badge" x1="0" y1="0" x2="0" y2="1"><stop offset="0" stop-color="#e8553a"/><stop offset="1" stop-color="#c8200c"/></linearGradient>
<linearGradient id="cnd" x1="0" y1="0" x2="1" y2="0"><stop offset="0" stop-color="#30d830"/><stop offset="0.5" stop-color="#90f890"/><stop offset="1" stop-color="#20c020"/></linearGradient>
</defs>
<rect x="269" y="0" width="24" height="22" fill="url(#chk)" shape-rendering="crispEdges"/>
<rect x="421" y="0" width="24" height="22" fill="url(#chk)" shape-rendering="crispEdges"/>
<rect x="449" y="0" width="24" height="22" fill="url(#chk)" shape-rendering="crispEdges"/>
<rect x="609" y="0" width="24" height="22" fill="url(#chk)" shape-rendering="crispEdges"/>
<rect x="1055" y="0" width="24" height="22" fill="url(#chk)" shape-rendering="crispEdges"/>
<g shape-rendering="crispEdges">
<rect x="268" y="0" width="1" height="21" fill="#a0a0a0"/>
<rect x="325" y="0" width="1" height="21" fill="#a0a0a0"/>
<rect x="415" y="0" width="1" height="21" fill="#a0a0a0"/>
<rect x="420" y="0" width="1" height="21" fill="#a0a0a0"/>
<rect x="448" y="0" width="1" height="21" fill="#a0a0a0"/>
<rect x="477" y="0" width="1" height="21" fill="#a0a0a0"/>
<rect x="608" y="0" width="1" height="21" fill="#a0a0a0"/>
<rect x="665" y="0" width="1" height="21" fill="#a0a0a0"/>
<rect x="1054" y="0" width="1" height="21" fill="#a0a0a0"/>
<rect x="230" y="0" width="1" height="23" fill="#a0a0a0"/><rect x="231" y="0" width="1" height="23" fill="#fff"/>
<rect x="598" y="0" width="1" height="23" fill="#a0a0a0"/><rect x="599" y="0" width="1" height="23" fill="#fff"/>
<rect x="904" y="0" width="1" height="23" fill="#a0a0a0"/><rect x="905" y="0" width="1" height="23" fill="#fff"/>
<rect x="1165" y="0" width="1" height="23" fill="#a0a0a0"/><rect x="1166" y="0" width="1" height="23" fill="#fff"/>
<rect x="234" y="1" width="3" height="1" fill="#a6a6a6"/>
<rect x="234" y="3" width="3" height="1" fill="#a6a6a6"/>
<rect x="234" y="5" width="3" height="1" fill="#a6a6a6"/>
<rect x="234" y="7" width="3" height="1" fill="#a6a6a6"/>
<rect x="234" y="9" width="3" height="1" fill="#a6a6a6"/>
<rect x="234" y="11" width="3" height="1" fill="#a6a6a6"/>
<rect x="234" y="13" width="3" height="1" fill="#a6a6a6"/>
<rect x="234" y="15" width="3" height="1" fill="#a6a6a6"/>
<rect x="234" y="17" width="3" height="1" fill="#a6a6a6"/>
<rect x="234" y="19" width="3" height="1" fill="#a6a6a6"/>
<rect x="602" y="1" width="3" height="1" fill="#a6a6a6"/>
<rect x="602" y="3" width="3" height="1" fill="#a6a6a6"/>
<rect x="602" y="5" width="3" height="1" fill="#a6a6a6"/>
<rect x="602" y="7" width="3" height="1" fill="#a6a6a6"/>
<rect x="602" y="9" width="3" height="1" fill="#a6a6a6"/>
<rect x="602" y="11" width="3" height="1" fill="#a6a6a6"/>
<rect x="602" y="13" width="3" height="1" fill="#a6a6a6"/>
<rect x="602" y="15" width="3" height="1" fill="#a6a6a6"/>
<rect x="602" y="17" width="3" height="1" fill="#a6a6a6"/>
<rect x="602" y="19" width="3" height="1" fill="#a6a6a6"/>
<rect x="908" y="1" width="3" height="1" fill="#a6a6a6"/>
<rect x="908" y="3" width="3" height="1" fill="#a6a6a6"/>
<rect x="908" y="5" width="3" height="1" fill="#a6a6a6"/>
<rect x="908" y="7" width="3" height="1" fill="#a6a6a6"/>
<rect x="908" y="9" width="3" height="1" fill="#a6a6a6"/>
<rect x="908" y="11" width="3" height="1" fill="#a6a6a6"/>
<rect x="908" y="13" width="3" height="1" fill="#a6a6a6"/>
<rect x="908" y="15" width="3" height="1" fill="#a6a6a6"/>
<rect x="908" y="17" width="3" height="1" fill="#a6a6a6"/>
<rect x="908" y="19" width="3" height="1" fill="#a6a6a6"/>
</g>
<g><path d="M4.5 4.7 Q4.5 3.5 5.7 3.5 H12.3 L15.5 6.8 V15.3 Q15.5 16.5 14.3 16.5 H5.7 Q4.5 16.5 4.5 15.3 Z" fill="#fff" stroke="#747474" stroke-width="1"/><path d="M12.3 3.8 V6.8 H15.3" fill="#fff" stroke="#747474" stroke-width="1"/><rect x="6" y="5.3" width="2.8" height="1.4" fill="#9a9a9a"/><path d="M6 9.5 H11.5 M6 11.5 H10.8 M6 13.5 H8" stroke="#8c8c8c" stroke-width="1" fill="none"/><path d="M8.3 13.25 H12.25 V9.3 H15.75 V13.25 H19.7 V16.75 H15.75 V20.7 H12.25 V16.75 H8.3 Z" fill="url(#gplus)" stroke="#0c8c12" stroke-width="0.9" stroke-linejoin="round"/><path d="M9.3 14.6 H13 M13.8 10.3 V13.8" stroke="#9dffa8" stroke-width="1.2" opacity="0.75" fill="none"/></g>
<text x="22.5" y="14.2" font-size="12.6" font-weight="500" fill="#000" textLength="36.8" lengthAdjust="spacingAndGlyphs">新订单</text>
<g><path d="M79.2 16.6 L86.3 11 L87 12.9 L79 18.9 Z" fill="#d8b868" stroke="#8e5c08" stroke-width="0.9" stroke-linejoin="round"/><path d="M77 4.2 L86 10 L86.3 11.2 L79 17 L71 13 Q74.5 10.5 75.5 8 Q76.2 6 77 4.2 Z" fill="url(#gold)" stroke="#8e5c08" stroke-width="1.1" stroke-linejoin="round"/><path d="M71 13 L79 18.9" stroke="#8e5c08" stroke-width="1.1"/><path d="M71.8 13.4 L79 17" stroke="#fbe9b0" stroke-width="1.1" fill="none"/><path d="M72.2 14.6 L78.8 18" stroke="#c88c10" stroke-width="0.9" fill="none"/><path d="M79.8 17.4 L86.6 12.2" stroke="#fff6dc" stroke-width="0.5" fill="none"/><path d="M77.8 5.8 Q77 9 73.6 12" stroke="#fff0a0" stroke-width="0.9" fill="none"/></g>
<g><path d="M101 4 Q101 3.2 102 3.2 L110.5 3.4 Q112 3.5 112 5 V12.5 H101 Z" fill="#189cf8"/><path d="M101 4 L104.6 6.4 V12.5 H101 Z" fill="#08a4ff"/><path d="M101.6 3.6 L110.6 3.6 L111.8 5 L104.8 6.2 Z" fill="#3a8cf0"/><path d="M101.8 4.2 L104.7 6.3 V12" stroke="#d8f0ff" stroke-width="0.7" fill="none"/><path d="M106 8.4 L110.6 7.6" stroke="#e8f6ff" stroke-width="0.9"/><path d="M105.4 10.4 H111.6" stroke="#7cc8ff" stroke-width="0.7"/><path d="M101.5 18.6 Q98.9 18.4 99.3 15.9 Q99.8 14 102 14.3 Q102.4 12 104.8 12.2 Q106 10.7 108 11.3 Q109.8 11.9 110.2 13.4 Q112.6 12.6 113.9 14.3 Q115.6 16.8 113.4 18.6 Z" fill="url(#cloud)" stroke="#40609c" stroke-width="1.1"/></g>
<g><circle cx="135" cy="10.8" r="8" fill="#f2f5f8"/><path d="M135.2 10.8 L135.4 18.8 A8 8 0 0 0 143 10.8 A8 8 0 0 0 135 2.8 Z" fill="url(#sweep)"/><circle cx="135" cy="10.8" r="7.4" fill="none" stroke="#3462d4" stroke-width="1" opacity="0.62"/><circle cx="135" cy="10.8" r="4.6" fill="none" stroke="#3462d4" stroke-width="1" opacity="0.55"/><path d="M135 3.4 A7.4 7.4 0 0 1 135.4 18.2 M135 6.2 A4.6 4.6 0 0 1 135.4 15.4" fill="none" stroke="#8fc09a" stroke-width="1.1" opacity="0.8"/><circle cx="134.8" cy="10.4" r="1.9" fill="#2858d0"/><path d="M135.5 11 V18.7" stroke="#18a818" stroke-width="1.4"/></g>
<g><path d="M154.2 10.5 L169.7 9.6 L163.6 18.7 L161.4 18.7 Z" fill="url(#funnel)" stroke="#d89a10" stroke-width="0.8" stroke-linejoin="round"/><path d="M154 8.3 Q154.5 6.6 158.2 6.6 Q158.4 3.2 161.8 3.2 Q165 3.2 165.3 6.2 Q169.6 5.6 170 7 Q170 9.2 162.6 10.4 Q154.6 11 154 8.3 Z" fill="url(#hat)" stroke="#2a88b8" stroke-width="0.7"/><path d="M158.6 6.8 Q161.6 8.2 165 6.4" stroke="#2a88b8" stroke-width="0.6" fill="none"/><circle cx="166.5" cy="14.7" r="4.1" fill="#e02a0c" stroke="#b41808" stroke-width="0.7"/><rect x="165" y="13.2" width="3" height="3" fill="#fff"/></g>
<text x="175.4" y="14.2" font-size="12.6" font-weight="500" fill="#000" textLength="47.6" lengthAdjust="spacingAndGlyphs">自动交易</text>
<g stroke="#505050" stroke-width="1" fill="none" shape-rendering="crispEdges"><path d="M248.5 6 V19 M246 16.5 H259"/></g><path d="M246.5 7.5 L248.5 5 L250.5 7.5 Z M258 14.5 L260.5 16.5 L258 18.5 Z" fill="#505050"/>
<path d="M254.5 6.3 V14.5 M254.5 7.2 H257 M252 13.6 H254.5" stroke="#0a8a0a" stroke-width="1.2" fill="none"/>
<g stroke="#505050" stroke-width="1" fill="none" shape-rendering="crispEdges"><path d="M276.5 6 V19 M274 16.5 H287"/></g><path d="M274.5 7.5 L276.5 5 L278.5 7.5 Z M286 14.5 L288.5 16.5 L286 18.5 Z" fill="#505050"/>
<path d="M282.5 3.5 V15" stroke="#0a8a0a" stroke-width="1.2"/><rect x="280.5" y="6" width="4" height="7.5" fill="url(#cnd)" stroke="#0a9a0a" stroke-width="0.9"/>
<g stroke="#505050" stroke-width="1" fill="none" shape-rendering="crispEdges"><path d="M304.5 6 V19 M302 16.5 H315"/></g><path d="M302.5 7.5 L304.5 5 L306.5 7.5 Z M314 14.5 L316.5 16.5 L314 18.5 Z" fill="#505050"/>
<path d="M303.5 13.5 Q306 10.5 308.5 8.5 Q310 7.5 311.5 9 Q313.5 11.5 315.5 12.5" stroke="#2a9a2a" stroke-width="1.2" fill="none"/>
<g><path d="M344.2 13.2 L348.8 17.2" stroke="#a88008" stroke-width="3.4" stroke-linecap="round"/><path d="M344.2 13.2 L348.6 17" stroke="#f0d040" stroke-width="1.8" stroke-linecap="round"/><circle cx="340" cy="9" r="5.6" fill="url(#lens)" stroke="#2a78c8" stroke-width="1.1"/><path d="M337 9 H343 M340 6 V12" stroke="#4a88b8" stroke-width="1.6" fill="none"/></g>
<g><path d="M372.2 13.2 L376.8 17.2" stroke="#a88008" stroke-width="3.4" stroke-linecap="round"/><path d="M372.2 13.2 L376.6 17" stroke="#f0d040" stroke-width="1.8" stroke-linecap="round"/><circle cx="368" cy="9" r="5.6" fill="url(#lens)" stroke="#2a78c8" stroke-width="1.1"/><path d="M365 9 H371" stroke="#4a88b8" stroke-width="1.6" fill="none"/></g>
<rect x="390" y="3" width="8" height="8" fill="url(#tg)"/><rect x="391.2" y="6.2" width="5.6" height="3.4" rx="0.6" fill="#fff"/><rect x="392.2" y="7.2" width="3.6" height="0.9" fill="#9ad080"/><rect x="391" y="4" width="1" height="1" fill="#dfe"/>
<rect x="398" y="3" width="8" height="8" fill="url(#tbl)"/><rect x="399.2" y="6.2" width="5.6" height="3.4" rx="0.6" fill="#fff"/><rect x="400.2" y="7.2" width="3.6" height="0.9" fill="#9ab0f0"/><rect x="399" y="4" width="1" height="1" fill="#dfe"/>
<rect x="390" y="11" width="8" height="8" fill="url(#tbl)"/><rect x="391.2" y="14.2" width="5.6" height="3.4" rx="0.6" fill="#fff"/><rect x="392.2" y="15.2" width="3.6" height="0.9" fill="#9ab0f0"/><rect x="391" y="12" width="1" height="1" fill="#dfe"/>
<rect x="398" y="11" width="8" height="8" fill="url(#tg)"/><rect x="399.2" y="14.2" width="5.6" height="3.4" rx="0.6" fill="#fff"/><rect x="400.2" y="15.2" width="3.6" height="0.9" fill="#9ad080"/><rect x="399" y="12" width="1" height="1" fill="#dfe"/>
<g stroke="#505050" stroke-width="1" fill="none" shape-rendering="crispEdges"><path d="M428.5 6 V19 M426 16.5 H439"/></g><path d="M426.5 7.5 L428.5 5 L430.5 7.5 Z M438 14.5 L440.5 16.5 L438 18.5 Z" fill="#505050"/>
<path d="M433.5 7 L437 10.5 L433.5 14 Z" fill="#7fdc7f" stroke="#0a9a0a" stroke-width="1"/>
<g stroke="#505050" stroke-width="1" fill="none" shape-rendering="crispEdges"><path d="M456.5 6 V19 M454 16.5 H467"/></g><path d="M454.5 7.5 L456.5 5 L458.5 7.5 Z M466 14.5 L468.5 16.5 L466 18.5 Z" fill="#505050"/>
<path d="M462.5 5 V14.5" stroke="#1a6ab8" stroke-width="1.3"/><path d="M463.5 10.5 H468 M466.5 8.5 L463.8 10.5 L466.5 12.5 Z" stroke="#e05010" stroke-width="1" fill="#e05010"/>
<g><path d="M487.5 4.7 Q487.5 3.5 488.7 3.5 H495.3 L498.5 6.8 V15.3 Q498.5 16.5 497.3 16.5 H488.7 Q487.5 16.5 487.5 15.3 Z" fill="#fff" stroke="#747474" stroke-width="1"/><path d="M495.3 3.8 V6.8 H498.3" fill="#fff" stroke="#747474" stroke-width="1"/><path d="M492.4 5.6 Q490.6 5.4 490.4 7.4 V13.4 M489.4 9.4 H492" stroke="#5a5440" stroke-width="0.9" fill="none"/><path d="M491.3 13.25 H495.25 V9.3 H498.75 V13.25 H502.7 V16.75 H498.75 V20.7 H495.25 V16.75 H491.3 Z" fill="url(#gplus)" stroke="#0c8c12" stroke-width="0.9" stroke-linejoin="round"/><path d="M492.3 14.6 H496 M496.8 10.3 V13.8" stroke="#9dffa8" stroke-width="1.2" opacity="0.75" fill="none"/></g>
<path d="M509 10 H514.6 L511.8 13.2 Z" fill="#000"/>
<g><circle cx="533" cy="11" r="8" fill="url(#clk)"/><path d="M527.2 7.2 A7 7 0 0 1 537.5 5.6" stroke="#8cc8ff" stroke-width="1.2" fill="none" opacity="0.8"/><circle cx="533" cy="11" r="5.5" fill="#f8fbff" stroke="#a8ccf4" stroke-width="0.6"/><path d="M533.1 7.4 V11.2 M532.6 11.1 H535.9" stroke="#282828" stroke-width="0.9" fill="none"/><path d="M533 6 v1 M533 15 v1 M528 11 h1 M537 11 h1 M530.3 6.7 l0.4 0.7 M535.7 6.7 l-0.4 0.7 M528.8 8.5 l0.7 0.4 M528.8 13.5 l0.7 -0.4 M530.3 15.3 l0.4 -0.7 M535.7 15.3 l-0.4 -0.7 M537.2 13.5 l-0.7 -0.4 M537.2 8.5 l-0.7 0.4" stroke="#8a8a8a" stroke-width="0.7"/><path d="M531.6 13.4 h2.8" stroke="#68b0f8" stroke-width="0.8"/></g>
<path d="M548 10 H553.6 L550.8 13.2 Z" fill="#000"/>
<g><rect x="564.5" y="4.5" width="15.2" height="13" rx="0.8" fill="#fff" stroke="#3a74c8" stroke-width="1"/><rect x="565" y="5" width="14.2" height="2" fill="#5a9ae4"/><path d="M565.5 5.5 H578.5" stroke="#a8d0f8" stroke-width="0.7"/><path d="M565 12.4 H579.5" stroke="#6a9ce0" stroke-width="0.9"/><path d="M566.5 10.6 H568.6 L570.4 9.4 L572 8.5 L573.6 9.5 H575.6 L577 8.6 H578.2" stroke="#a02408" stroke-width="1.2" fill="none"/><path d="M566.8 15.2 L568.6 14.4 L570.4 15.2 L572 14.4 L574.6 13.2 L576.4 14.4 L578 15.5" stroke="#108818" stroke-width="1.2" fill="none"/></g>
<path d="M587 10 H592.6 L589.8 13.2 Z" fill="#000"/>
<path d="M616.5 4 L616.5 14.8 L619 12.6 L621 17.6 L622.8 16.8 L620.8 12 L624 11.8 Z" fill="#505050"/>
<g stroke="#505050" stroke-width="1" shape-rendering="crispEdges"><path d="M648.5 4 V10 M648.5 13 V19 M641 11.5 H647 M650 11.5 H656"/></g><rect x="648" y="11" width="1" height="1" fill="#a0a0a0"/>
<g stroke="#505050" stroke-width="1" shape-rendering="crispEdges"><path d="M682.5 5 V18 M705 11.5 H717"/></g>
<path d="M732.8 17.8 L745 5.7" stroke="#505050" stroke-width="1.1"/>
<g fill="none"><path d="M758.7 12.5 L766.8 5.1 M764.2 17.7 L773.4 9.3" stroke="#707070" stroke-width="0.8"/><path d="M761.4 10.1 V17.7 M764.5 9.3 V14.8 M767.7 7.1 V14.2 M770.6 2.9 V10 M760 16.5 H761.4 M761.4 12 H762.8 M763.2 13.5 H764.5 M764.5 10.8 H765.8 M766.3 12.8 H767.7 M767.7 8.8 H769 M769.3 8.2 H770.6 M770.6 5.4 H772" stroke="#454545" stroke-width="1.15"/></g>
<text x="770" y="19.9" font-size="6.8" font-weight="bold" fill="#404040">E</text>
<g stroke="#505050" stroke-width="1" stroke-dasharray="1 1" shape-rendering="crispEdges"><path d="M788 4.5 H802 M788 7.5 H802 M788 11.5 H802 M788 15.5 H798"/></g>
<text x="797.6" y="19.6" font-size="6.5" font-weight="bold" fill="#404040">F</text>
<text x="818.6" y="16" font-size="12.5" font-weight="bold" fill="#505050" textLength="8" lengthAdjust="spacingAndGlyphs">A</text>
<rect x="845.5" y="5.5" width="11" height="12" fill="none" stroke="#505050" stroke-width="1" stroke-dasharray="1 1" shape-rendering="crispEdges"/><rect x="844" y="4" width="2" height="2" fill="#505050"/>
<text x="846.8" y="15.6" font-size="10.5" font-weight="bold" fill="#505050" textLength="8" lengthAdjust="spacingAndGlyphs">T</text>
<path d="M872 8.8 L875.5 5 L879 8.8 L877.2 8.8 L877.2 9.6 L873.8 9.6 L873.8 8.8 Z M879 14.2 L886 14.2 L882.5 18 Z M880.7 13 h3.6 v1.2 h-3.6z" fill="#505050"/><path d="M874.5 12.5 L876.5 14.5 L881 9.5" stroke="#505050" stroke-width="1.2" fill="none"/>
<path d="M893 10 H898.6 L895.8 13.2 Z" fill="#000"/>
<text x="919.6" y="15.4" font-size="10.1" fill="#303030" textLength="12.4" lengthAdjust="spacingAndGlyphs">M1</text>
<text x="947.7" y="15.4" font-size="10.1" fill="#303030" textLength="12.7" lengthAdjust="spacingAndGlyphs">M5</text>
<text x="973.6" y="15.4" font-size="10.1" fill="#303030" textLength="17.8" lengthAdjust="spacingAndGlyphs">M15</text>
<text x="1001.6" y="15.4" font-size="10.1" fill="#303030" textLength="17.7" lengthAdjust="spacingAndGlyphs">M30</text>
<text x="1032.7" y="15.4" font-size="10.1" fill="#303030" textLength="11.4" lengthAdjust="spacingAndGlyphs">H1</text>
<text x="1059.6" y="15.4" font-size="10.1" fill="#303030" textLength="12.2" lengthAdjust="spacingAndGlyphs">H4</text>
<text x="1088.6" y="15.4" font-size="10.1" fill="#303030" textLength="11.4" lengthAdjust="spacingAndGlyphs">D1</text>
<text x="1116" y="15.4" font-size="10.1" fill="#303030" textLength="14" lengthAdjust="spacingAndGlyphs">W1</text>
<text x="1142.7" y="15.4" font-size="10.1" fill="#303030" textLength="14.6" lengthAdjust="spacingAndGlyphs">MN</text>
<g><path d="M1632.6 11.4 L1627.8 15.9" stroke="#2a5cd0" stroke-width="2.4" stroke-linecap="round"/><circle cx="1635.5" cy="8.5" r="3.9" fill="#f4f6fa" stroke="#2a5cd0" stroke-width="1.1"/></g>
<g><path d="M1652 13.5 Q1652 8.5 1658 8.5 Q1664.5 8.5 1664.5 13 Q1664.5 17.3 1658.5 17.3 L1656.5 17.3 L1655.3 19.6 L1654.8 17 Q1652 16.2 1652 13.5 Z" fill="#dcdfea" stroke="#a8a8a8" stroke-width="0.8"/><circle cx="1666.4" cy="8.4" r="8.2" fill="url(#badge)"/><text x="1663.2" y="13" font-size="12" fill="#fff">1</text></g>
</svg>
</body></html>
